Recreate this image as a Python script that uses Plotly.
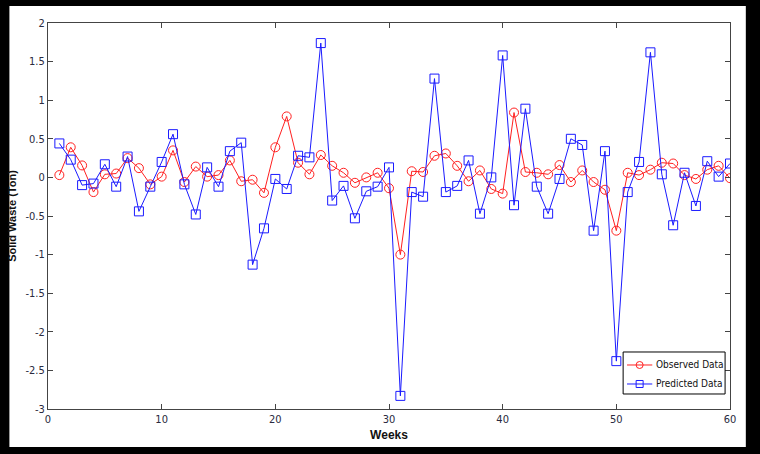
import plotly.graph_objects as go

weeks = list(range(1, 61))
observed = [0.03, 0.39, 0.155, -0.19, 0.04, 0.05, 0.25, 0.12, -0.09, 0.01,
            0.35, -0.06, 0.14, 0.01, 0.03, 0.22, -0.05, -0.03, -0.20, 0.39,
            0.79, 0.19, 0.04, 0.29, 0.15, 0.06, -0.07, 0.0, 0.06, -0.14,
            -1.0, 0.08, 0.07, 0.28, 0.31, 0.15, -0.05, 0.09, -0.15, -0.21,
            0.84, 0.07, 0.06, 0.04, 0.16, -0.06, 0.09, -0.06, -0.16, -0.69,
            0.06, 0.03, 0.10, 0.19, 0.18, 0.03, -0.02, 0.10, 0.15, -0.01]
predicted = [0.44, 0.23, -0.10, -0.08, 0.17, -0.12, 0.27, -0.44, -0.12, 0.20,
             0.56, -0.09, -0.48, 0.13, -0.12, 0.34, 0.45, -1.13, -0.66, -0.02,
             -0.15, 0.28, 0.26, 1.74, -0.30, -0.11, -0.53, -0.18, -0.12, 0.13,
             -2.83, -0.19, -0.25, 1.28, -0.19, -0.11, 0.22, -0.47, 0.0, 1.58,
             -0.36, 0.89, -0.12, -0.47, -0.02, 0.50, 0.42, -0.69, 0.34, -2.38,
             -0.19, 0.20, 1.62, 0.04, -0.62, 0.06, -0.37, 0.21, 0.01, 0.18]

series_names = ["Observed Data", "Predicted Data"]
series_colors = ["#ff2020", "#1a1aff"]

x_ticks = [0, 10, 20, 30, 40, 50, 60]
y_ticks = [-3, -2.5, -2, -1.5, -1, -0.5, 0, 0.5, 1, 1.5, 2]
y_tick_text = ["-3", "-2.5", "-2", "-1.5", "-1", "-0.5", "0", "0.5", "1", "1.5", "2"]

font_fam = "DejaVu Sans Condensed, Liberation Sans Narrow, Arial Narrow, Liberation Sans, Arial"

fig = go.Figure()
fig.add_trace(go.Scatter(
    x=weeks, y=observed, mode="lines+markers", name=series_names[0],
    line=dict(color=series_colors[0], width=1),
    marker=dict(symbol="circle-open", size=9, color=series_colors[0], line=dict(width=1)),
))
fig.add_trace(go.Scatter(
    x=weeks, y=predicted, mode="lines+markers", name=series_names[1],
    line=dict(color=series_colors[1], width=1),
    marker=dict(symbol="square-open", size=9, color=series_colors[1], line=dict(width=1)),
))

# white page panel over black frame
fig.add_shape(type="rect", xref="paper", yref="paper",
              x0=-0.0566, x1=1.0232, y0=-0.0984, y1=1.044,
              fillcolor="white", line=dict(width=0), layer="below")

# custom compact legend (MATLAB style) in the lower right corner
lx0, lx1, ly0, ly1 = 0.8433, 0.9928, 0.0389, 0.1477
fig.add_shape(type="rect", xref="paper", yref="paper", x0=lx0, x1=lx1, y0=ly0, y1=ly1,
              fillcolor="white", line=dict(color="black", width=1), layer="above")
row_y = [0.114, 0.0648]
line_x0, line_x1, mark_x, text_x = 0.849, 0.886, 0.8675, 0.888
for i, (nm, col) in enumerate(zip(series_names, series_colors)):
    fig.add_shape(type="line", xref="paper", yref="paper", x0=line_x0, x1=line_x1,
                  y0=row_y[i], y1=row_y[i], line=dict(color=col, width=1), layer="above")
    fig.add_shape(type="circle" if i == 0 else "rect", xref="paper", yref="paper",
                  xsizemode="pixel", ysizemode="pixel", xanchor=mark_x, yanchor=row_y[i],
                  x0=-3.5, x1=3.5, y0=-3.5, y1=3.5, fillcolor="rgba(0,0,0,0)",
                  line=dict(color=col, width=1), layer="above")
    fig.add_annotation(x=text_x, y=row_y[i], xref="paper", yref="paper", text=nm,
                       showarrow=False, xanchor="left", yanchor="middle",
                       font=dict(family=font_fam, size=10, color="#111"))

axis_common = dict(
    showgrid=False, zeroline=False, showline=True, linecolor="#444", linewidth=1,
    mirror="ticks", ticks="inside", ticklen=5, tickcolor="#444",
    tickfont=dict(family=font_fam, size=11, color="#2a2a40"),
)

fig.update_layout(
    width=760, height=454,
    margin=dict(l=41, r=30, t=23, b=45),
    paper_bgcolor="black", plot_bgcolor="white",
    xaxis=dict(range=[0, 60], tickvals=x_ticks,
               title=dict(text="<b>Weeks</b>", font=dict(family="Liberation Sans, Arial", size=12, color="#111"), standoff=5),
               **axis_common),
    yaxis=dict(range=[-3, 2], tickvals=y_ticks, ticktext=y_tick_text,
               title=dict(text="<b>Solid Waste (Ton)</b>", font=dict(family="Liberation Sans, Arial", size=11, color="#111"), standoff=6),
               **axis_common),
    showlegend=False,
)

fig.write_html("out.html")
